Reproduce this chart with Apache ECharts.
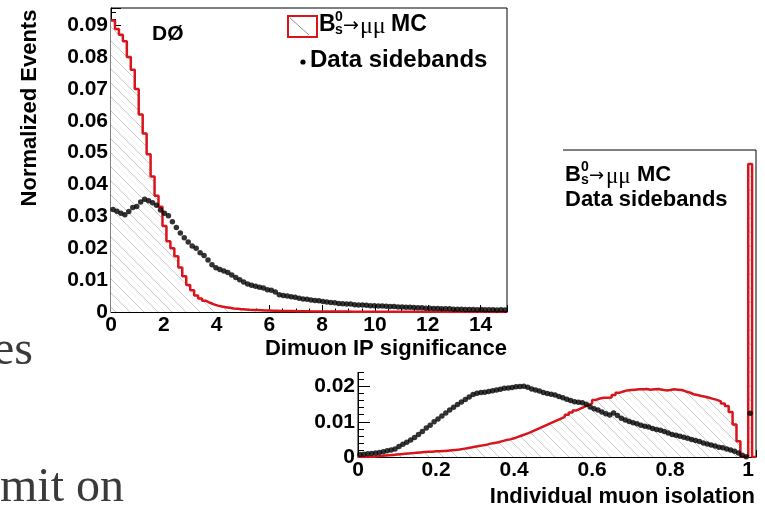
<!DOCTYPE html>
<html><head><meta charset="utf-8">
<script src="https://cdn.jsdelivr.net/npm/echarts@6/dist/echarts.min.js"></script>
<style>html,body{margin:0;padding:0;background:#fff}#c{width:765px;height:509px}</style>
</head><body><div id="c"></div>
<script>
// ---------- Data: Dimuon IP significance (bins of 0.15 from 0 to 15) ----------
const ipStart = 0;
const ipBinWidth = 0.15;
const ipMC = [
0.0915,0.0888,0.0870,0.0850,0.0800,0.0760,0.0700,0.0620,0.0560,0.0495,
0.0425,0.0365,0.0330,0.0270,0.0222,0.0200,0.0175,0.0140,0.0112,0.0085,
0.0068,0.0052,0.0042,0.0035,0.0029,0.0024,0.0020,0.0017,0.0015,0.0013,
0.0011,0.0010,0.0009,0.0008,0.0007,0.00065,0.0006,0.00055,0.0005,0.00045,
0.0004,0.00038,0.00035,0.00032,0.0003,0.00028,0.00026,0.00024,0.00022,0.0002,
0.00019,0.00018,0.00017,0.00016,0.00015,0.00014,0.00014,0.00013,0.00012,0.00012,
0.00011,0.00011,0.0001,0.0001,0.00009,0.00009,0.00009,0.00008,0.00008,0.00008,
0.00007,0.00007,0.00007,0.00006,0.00006,0.00006,0.00006,0.00005,0.00005,0.00005,
0.00005,0.00005,0.00004,0.00004,0.00004,0.00004,0.00004,0.00004,0.00003,0.00003,
0.00003,0.00003,0.00003,0.00003,0.00003,0.00003,0.00003,0.00003,0.00003,0.00003
];
const ipData = [
0.0322,0.0316,0.0310,0.0305,0.0315,0.0328,0.0331,0.0345,0.0354,0.0349,
0.0343,0.0335,0.0320,0.0310,0.0302,0.0283,0.0265,0.0248,0.0233,0.0220,
0.0207,0.0200,0.0186,0.0177,0.0163,0.0148,0.0139,0.0133,0.0129,0.0124,
0.0116,0.0108,0.0101,0.0094,0.0088,0.0084,0.0081,0.0078,0.0075,0.0070,
0.0068,0.0063,0.0054,0.0052,0.0050,0.0048,0.0046,0.0043,0.0041,0.0040,
0.0038,0.0036,0.0035,0.0033,0.0031,0.0030,0.0029,0.0027,0.0026,0.0025,
0.0025,0.0023,0.0022,0.0022,0.0021,0.0020,0.0020,0.0019,0.0019,0.0018,
0.0017,0.0017,0.0016,0.0016,0.0015,0.0015,0.0014,0.0013,0.0013,0.0012,
0.0012,0.0011,0.0011,0.0010,0.0010,0.0010,0.0009,0.0009,0.0009,0.0008,
0.0008,0.0008,0.0007,0.0008,0.0007,0.0007,0.0007,0.0006,0.0007,0.0006
];
// ---------- Data: Individual muon isolation (bins of 0.01 from 0 to 1.02) ----------
const isoStart = 0;
const isoBinWidth = 0.01;
const isoMC = [
0,0,0,0.0001,0.0002, 0.0003,0.0004,0.0005,0.0006,0.0007,
0.0008,0.0009,0.0010,0.0011,0.0012, 0.0013,0.0014,0.0015,0.0015,0.0016,
0.0016,0.0017,0.0018,0.0019,0.0020, 0.0021,0.0023,0.0025,0.0027,0.0029,
0.0031,0.0033,0.0035,0.0038,0.0040, 0.0042,0.0045,0.0048,0.0050,0.0053,
0.0057,0.0061,0.0065,0.0069,0.0074, 0.0079,0.0084,0.0089,0.0094,0.0099,
0.0104,0.0109,0.0114,0.0120,0.0126, 0.0132,0.0137,0.0142,0.0147,0.0152,
0.0162,0.0166,0.0168,0.0168,0.0169, 0.0176,0.0182,0.0186,0.0189,0.0190,
0.0191,0.0192,0.0192,0.0193,0.0191, 0.0192,0.0193,0.0191,0.0189,0.0190,
0.0192,0.0191,0.0190,0.0186,0.0183, 0.0178,0.0176,0.0173,0.0171,0.0168,
0.0165,0.0162,0.0158,0.0152,0.0145, 0.0128,0.0092,0.0045,0,0,
0.0831,0
];
const isoData = [
0.0007,0.0008,0.0009,0.0010,0.0011, 0.0013,0.0015,0.0018,0.0020,0.0023,
0.0030,0.0036,0.0042,0.0048,0.0055, 0.0064,0.0072,0.0082,0.0090,0.0100,
0.0108,0.0116,0.0125,0.0133,0.0141, 0.0149,0.0156,0.0163,0.0170,0.0177,
0.0181,0.0183,0.0184,0.0186,0.0188, 0.0190,0.0192,0.0195,0.0196,0.0197,
0.0199,0.0200,0.0201,0.0198,0.0193, 0.0190,0.0187,0.0183,0.0180,0.0178,
0.0176,0.0172,0.0168,0.0164,0.0160, 0.0157,0.0155,0.0154,0.0150,0.0142,
0.0137,0.0133,0.0128,0.0123,0.0119, 0.0125,0.0118,0.0110,0.0105,0.0101,
0.0097,0.0094,0.0090,0.0087,0.0085, 0.0081,0.0078,0.0076,0.0072,0.0068,
0.0064,0.0062,0.0059,0.0056,0.0053, 0.0050,0.0047,0.0044,0.0040,0.0037,
0.0034,0.0031,0.0028,0.0026,0.0023, 0.0020,0.0016,0.0011,0.0005,0.0001,
0.0124,null
];
// axis ranges
const ipRange = [0, 15], ipYRange = [0, 0.0954];
const isoRange = [0, 1.02], isoYRange = [0, 0.0871];
// texts
const ipXTitle = 'Dimuon IP significance';
const isoXTitle = 'Individual muon isolation';
const yTitle = 'Normalized Events';
const legMC = ['B', '0', 's', '\u2192', '\u03bc\u03bc', 'MC'];
const legData = 'Data sidebands';
const expLabel = 'D\u00d8';
const bgTexts = ['es', 'mit on'];

// ---------- helpers ----------
function histSteps(start, w, vals) {
  const pts = vals.map((v, i) => [+(start + i * w).toFixed(5), v]);
  pts.push([+(start + vals.length * w).toFixed(5), vals[vals.length - 1]]);
  return pts;
}
function centers(start, w, vals) {
  return vals.map((v, i) => [+(start + (i + 0.5) * w).toFixed(5), v]).filter(p => p[1] != null);
}
function hatch() {
  const s = 14, c = document.createElement('canvas');
  c.width = s; c.height = s;
  const g = c.getContext('2d');
  g.fillStyle = '#fff'; g.fillRect(0, 0, s, s);
  g.strokeStyle = 'rgba(70,70,70,0.42)'; g.lineWidth = 0.7;
  g.beginPath(); g.moveTo(0, 0); g.lineTo(s, s); g.stroke();
  g.strokeStyle = 'rgba(150,150,150,0.2)';
  g.beginPath(); g.moveTo(s / 2, 0); g.lineTo(s, s / 2); g.moveTo(0, s / 2); g.lineTo(s / 2, s); g.stroke();
  return c;
}
const pat = { image: hatch(), repeat: 'repeat' };
const FONT = '"Liberation Sans", Arial, Helvetica, sans-serif';
const RED = '#d8141c';

function xAxisCfg(gi, range, interval, zl, majorLen) {
  return {
    type: 'value', gridIndex: gi, min: range[0], max: range[1], interval: interval,
    zlevel: zl, z: 1,
    axisLine: { show: true, onZero: false, lineStyle: { color: '#000', width: 1 } },
    axisTick: { show: true, inside: true, length: majorLen, lineStyle: { color: '#000', width: 1 } },
    minorTick: { show: true, splitNumber: 4, length: majorLen / 2, lineStyle: { color: '#000', width: 1 } },
    splitLine: { show: false },
    axisLabel: { show: true, showMaxLabel: false, margin: 3, color: '#000', fontFamily: FONT, fontWeight: 'bold', fontSize: 21 }
  };
}
function yAxisCfg(gi, range, zl, majorLen) {
  return {
    type: 'value', gridIndex: gi, min: range[0], max: range[1], interval: 0.01,
    zlevel: zl, z: 1,
    axisLine: { show: true, onZero: false, lineStyle: { color: '#000', width: 1 } },
    axisTick: { show: true, inside: true, length: majorLen, lineStyle: { color: '#000', width: 1 } },
    minorTick: { show: true, splitNumber: 5, length: majorLen / 2, lineStyle: { color: '#000', width: 1 } },
    splitLine: { show: false },
    axisLabel: { show: true, showMaxLabel: false, margin: 3, color: '#000', fontFamily: FONT, fontWeight: 'bold', fontSize: 21,
      formatter: v => (v === 0 ? '0' : v.toFixed(2)) }
  };
}
function txt(x, y, text, font, opts) {
  opts = opts || {};
  return {
    type: 'text', x: x, y: y, rotation: opts.rot || 0, zlevel: opts.zl || 0, z: 5, silent: true,
    style: { text: text, font: font, fill: opts.fill || '#000', align: opts.align || 'left', verticalAlign: opts.va || 'middle' }
  };
}
function mcLegend(x, y, zl, size) {
  const b = 'bold ' + size + 'px ' + FONT;
  const sm = 'bold ' + Math.round(size * 0.62) + 'px ' + FONT;
  return [
    txt(x, y, legMC[0], b, { zl }),
    txt(x + 16, y - 8, legMC[1], sm, { zl }),
    txt(x + 16, y + 5, legMC[2], sm, { zl }),
    txt(x + 24, y + 1, legMC[3], (size - 4) + 'px "DejaVu Sans", sans-serif', { zl }),
    txt(x + 41, y + 2, legMC[4], (size + 1) + 'px "Liberation Serif", serif', { zl }),
    txt(x + 72, y, legMC[5], b, { zl })
  ];
}

const chart = echarts.init(document.getElementById('c'), null, { renderer: 'canvas' });
const option = {
  animation: false,
  backgroundColor: '#fff',
  grid: [
    { left: 111, top: 8, width: 396, height: 304, show: true, backgroundColor: '#fff', borderColor: '#000', borderWidth: 1, zlevel: 1, z: 1 },
    { left: 358, top: 150, width: 398, height: 307, show: true, backgroundColor: 'transparent', borderColor: '#000', borderWidth: 1, zlevel: 0, z: 1 }
  ],
  xAxis: [xAxisCfg(0, ipRange, 2, 1, 7), xAxisCfg(1, isoRange, 0.2, 0, 7)],
  yAxis: [yAxisCfg(0, ipYRange, 1, 10), yAxisCfg(1, isoYRange, 0, 12)],
  series: [
    { type: 'line', xAxisIndex: 0, yAxisIndex: 0, zlevel: 1, z: 3, step: 'end', showSymbol: false, symbol: 'none',
      data: histSteps(ipStart, ipBinWidth, ipMC), lineStyle: { color: RED, width: 2.5 }, areaStyle: { color: pat, opacity: 1 } },
    { type: 'scatter', xAxisIndex: 0, yAxisIndex: 0, zlevel: 1, z: 4, symbolSize: 5.5,
      data: centers(ipStart, ipBinWidth, ipData), itemStyle: { color: '#000' } },
    { type: 'line', xAxisIndex: 1, yAxisIndex: 1, zlevel: 0, z: 3, step: 'end', showSymbol: false, symbol: 'none',
      data: histSteps(isoStart, isoBinWidth, isoMC), lineStyle: { color: RED, width: 2.5 }, areaStyle: { color: pat, opacity: 1 } },
    { type: 'scatter', xAxisIndex: 1, yAxisIndex: 1, zlevel: 0, z: 4, symbolSize: 5.5,
      data: centers(isoStart, isoBinWidth, isoData), itemStyle: { color: '#000' } }
  ],
  graphic: { elements: [].concat(
    [
      // white panel of the upper figure, laid over the lower one
      { type: 'rect', zlevel: 1, z: 0, silent: true, shape: { x: 300, y: 140, width: 263, height: 232 }, style: { fill: '#fff' } },
      // background slide text
      txt(-7, 351, bgTexts[0], '48px "Liberation Serif", serif', { fill: '#3a3a3a' }),
      txt(0, 488, bgTexts[1], '48px "Liberation Serif", serif', { fill: '#3a3a3a' }),
      // axis titles
      txt(30, 108, yTitle, 'bold 22px ' + FONT, { zl: 1, rot: Math.PI / 2, align: 'center' }),
      txt(507, 349, ipXTitle, 'bold 22px ' + FONT, { zl: 1, align: 'right' }),
      txt(755, 497, isoXTitle, 'bold 22px ' + FONT, { align: 'right' }),
      txt(152, 34, expLabel, 'bold 21px ' + FONT, { zl: 1 }),
      // top legend
      { type: 'rect', zlevel: 1, z: 5, silent: true, shape: { x: 288, y: 16, width: 29, height: 21 }, style: { fill: '#fff', stroke: RED, lineWidth: 2 } },
      { type: 'line', zlevel: 1, z: 6, silent: true, shape: { x1: 290, y1: 18, x2: 309, y2: 35 }, style: { stroke: '#777', lineWidth: 0.8 } },
      { type: 'circle', zlevel: 1, z: 6, silent: true, shape: { cx: 303, cy: 62, r: 2.6 }, style: { fill: '#000' } },
      txt(310, 60, legData, 'bold 24px ' + FONT, { zl: 1 })
    ],
    mcLegend(319, 25, 1, 23),
    mcLegend(565, 175, 0, 22),
    [ txt(565, 200, legData, 'bold 22px ' + FONT) ]
  ) }
};
chart.setOption(option);
</script>
</body></html>
